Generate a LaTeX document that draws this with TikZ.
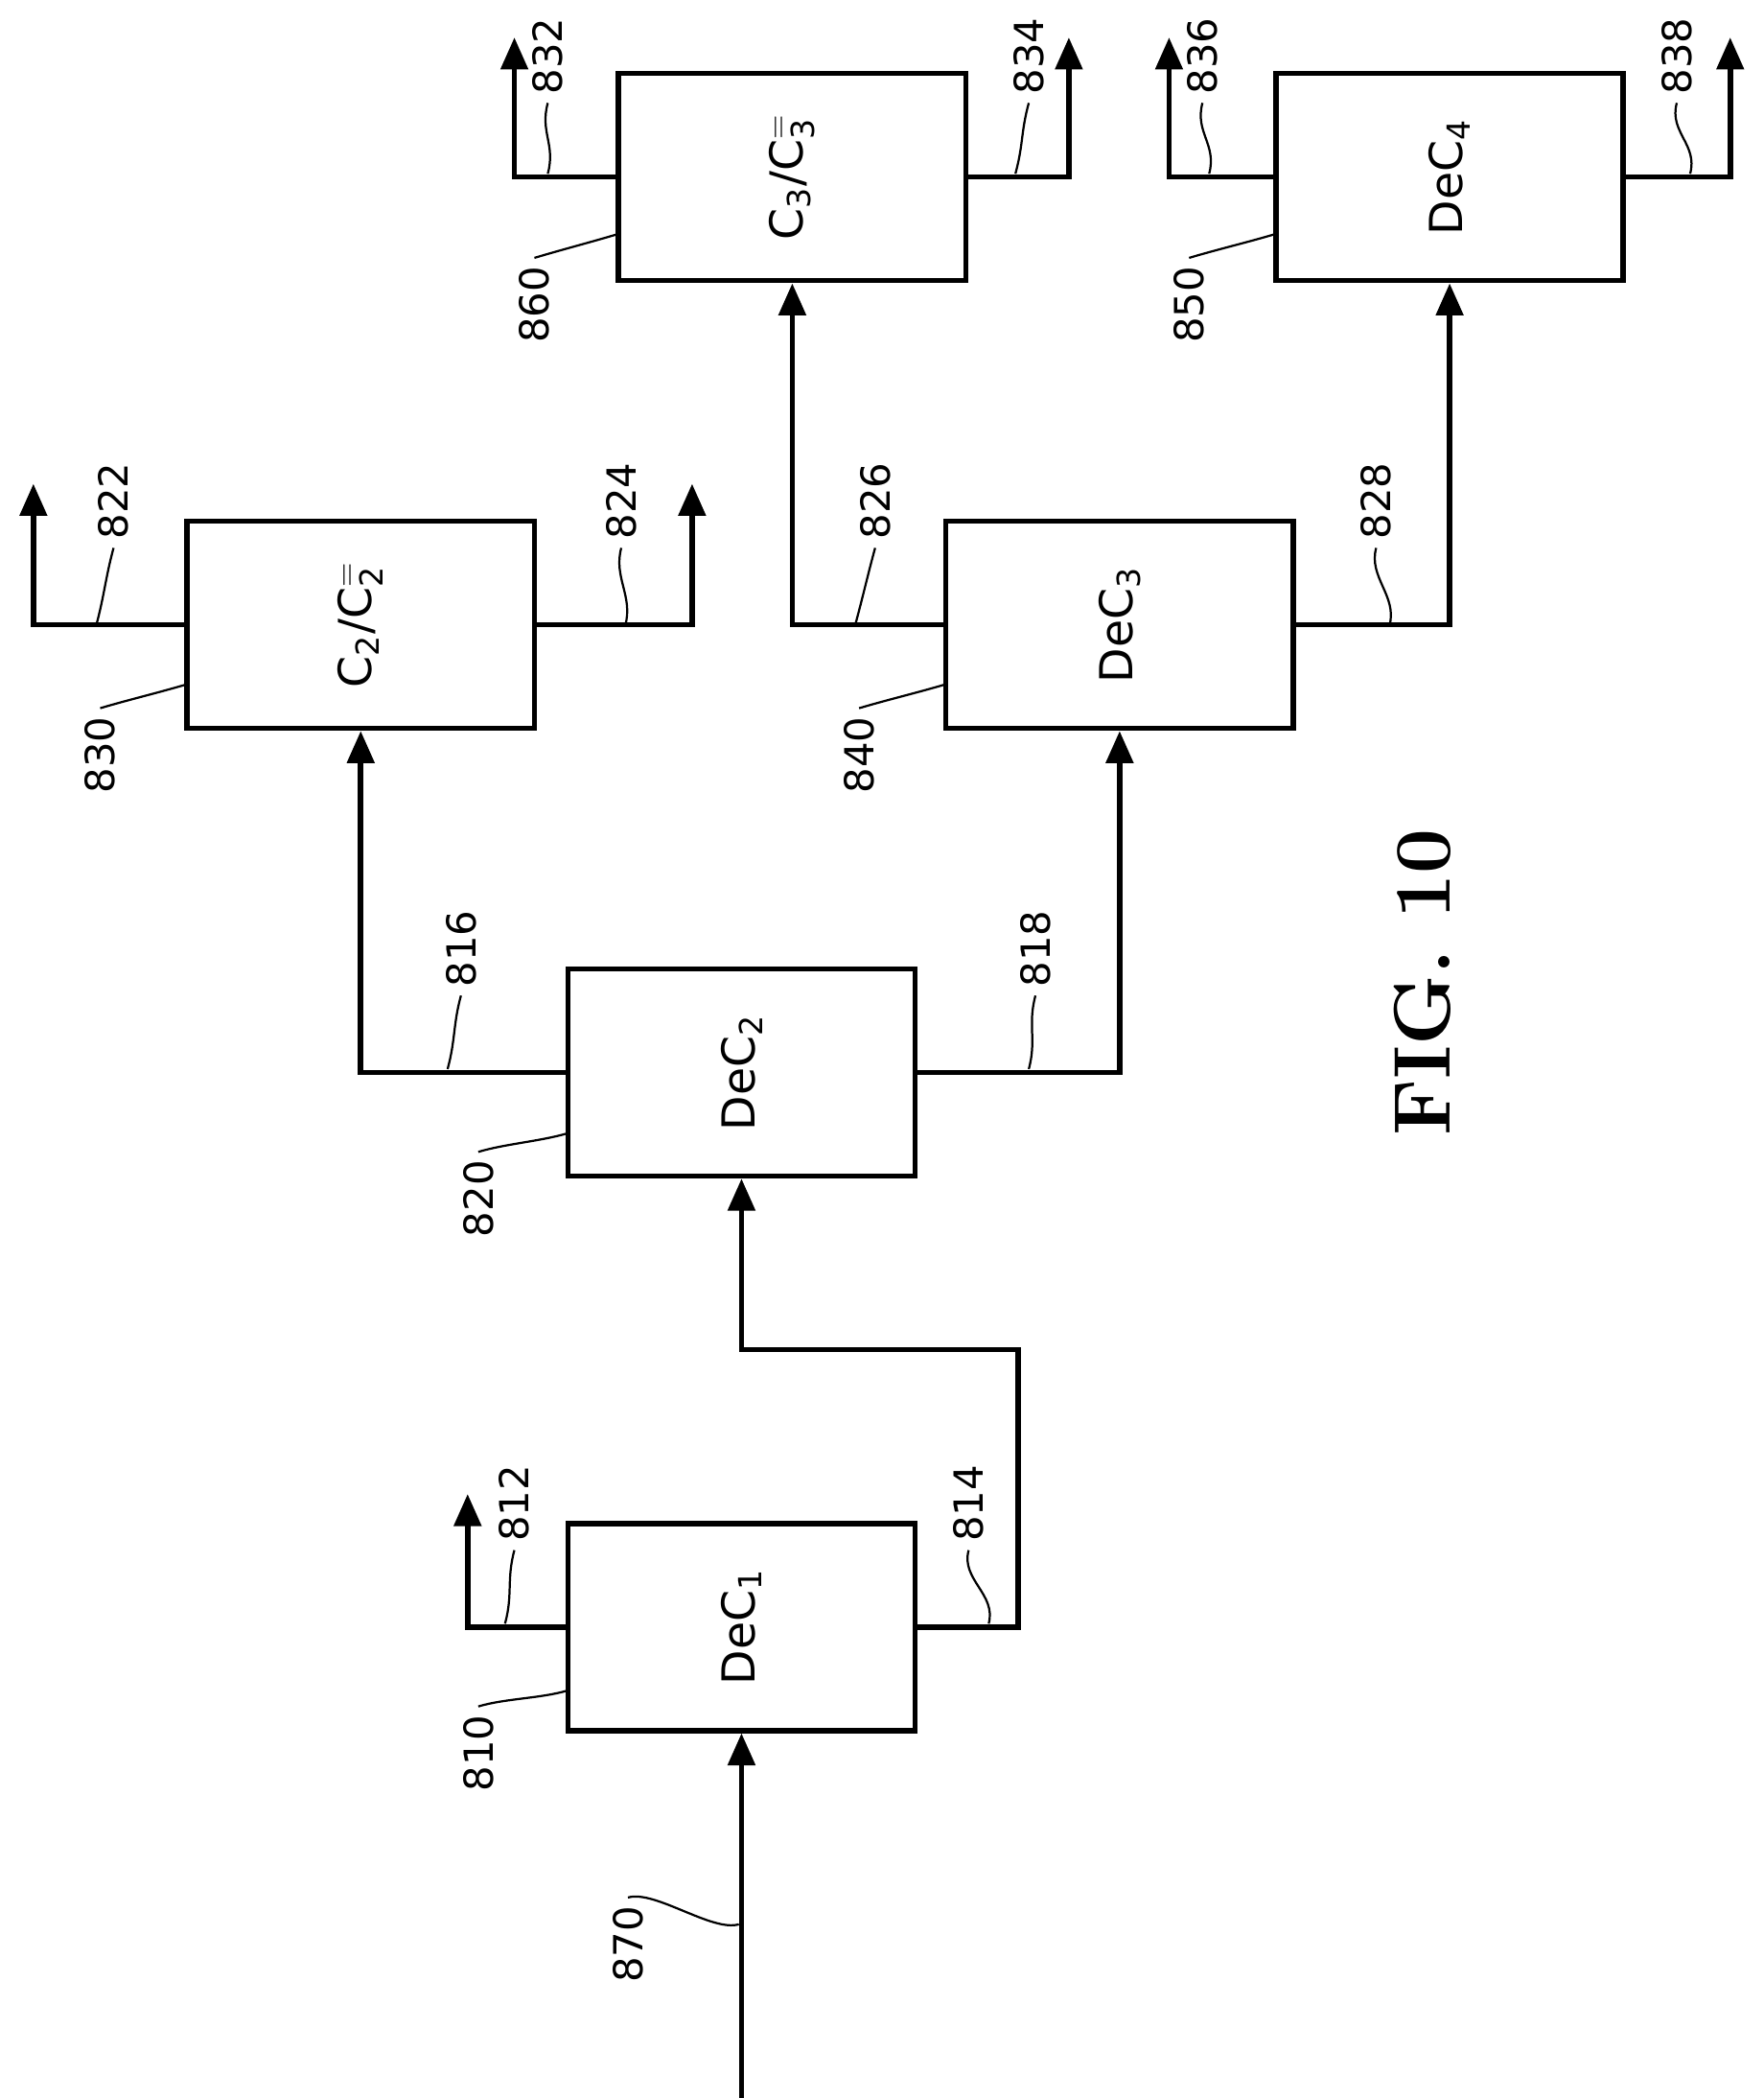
\documentclass[tikz,border=0pt]{standalone}
\usepackage{fontspec}
\setsansfont{DejaVu Sans}
\usetikzlibrary{arrows.meta,positioning}
\tikzset{
  unit/.style={draw,line width=2pt,minimum width=130pt,minimum height=77.5pt,inner sep=0pt,font=\sffamily\fontsize{17}{17}\selectfont},
  flow/.style={line width=2pt,-{Triangle[length=12pt,width=10pt]}},
  lbl/.style={rotate=90,inner sep=3pt,font=\sffamily\fontsize{15}{15}\selectfont},
  lead/.style={line width=0.8pt}
}
% stream label: leader from the bottom end of the text down to the line
\newcommand{\slabel}[4]{\node[lbl] (#1) at (#2) {#3};
  \draw[lead] (#1.west) .. controls +(-6,22) and +(6,-22) .. (#4);}
% unit label: leader from the top end of the text across to the box
\newcommand{\ulabel}[4]{\node[lbl] (#1) at (#2) {#3};
  \draw[lead] (#1.east) .. controls +(20,-6) and +(-20,6) .. (#4);}
\begin{document}
\begin{tikzpicture}[x=0.5pt,y=-0.5pt]
    \useasboundingbox (0,0) rectangle (1320,1570);

    % Columns
    \node[unit] (dec1) at (555,1217.5) {\rotatebox{90}{DeC$_{\mathsf{1}}$}};
    \node[unit] (dec2) at (555,802.5) {\rotatebox{90}{DeC$_{\mathsf{2}}$}};
    \node[unit] (c2) at (270,467.5) {\rotatebox{90}{C$_{\mathsf{2}}$/C$_{\mathsf{2}}^{=}$}};
    \node[unit] (dec3) at (838,467.5) {\rotatebox{90}{DeC$_{\mathsf{3}}$}};
    \node[unit] (c3) at (593,132.5) {\rotatebox{90}{C$_{\mathsf{3}}$/C$_{\mathsf{3}}^{=}$}};
    \node[unit] (dec4) at (1085,132.5) {\rotatebox{90}{DeC$_{\mathsf{4}}$}};

    % Stream ends
    \coordinate (feed) at (555,1570);
    \coordinate (o812) at (350,1118);
    \coordinate (j814) at (762,1010);
    \coordinate (o822) at (25,362);
    \coordinate (o824) at (518,362);
    \coordinate (o832) at (385,28);
    \coordinate (o834) at (800,28);
    \coordinate (o836) at (875,28);
    \coordinate (o838) at (1295,28);

    % Streams
    \draw[flow] (feed) -- (dec1.south);
    \draw[flow] (dec1.west) -| (o812);
    \draw[flow] (dec1.east) -| (j814) -| (dec2.south);
    \draw[flow] (dec2.west) -| (c2.south);
    \draw[flow] (dec2.east) -| (dec3.south);
    \draw[flow] (c2.west) -| (o822);
    \draw[flow] (c2.east) -| (o824);
    \draw[flow] (dec3.west) -| (c3.south);
    \draw[flow] (dec3.east) -| (dec4.south);
    \draw[flow] (c3.west) -| (o832);
    \draw[flow] (c3.east) -| (o834);
    \draw[flow] (dec4.west) -| (o836);
    \draw[flow] (dec4.east) -| (o838);

    % Reference numerals
    \ulabel{l870}{470,1455}{870}{553,1440}
    \ulabel{l810}{358,1312}{810}{425,1265}
    \ulabel{l820}{358,897}{820}{425,848}
    \ulabel{l830}{75,565}{830}{140,512}
    \ulabel{l840}{643,565}{840}{708,512}
    \ulabel{l860}{400,228}{860}{463,175}
    \ulabel{l850}{890,228}{850}{955,175}
    \slabel{l812}{385,1125}{812}{378,1215}
    \slabel{l814}{725,1125}{814}{740,1215}
    \slabel{l816}{345,710}{816}{335,800}
    \slabel{l818}{775,710}{818}{770,800}
    \slabel{l822}{85,375}{822}{72,468}
    \slabel{l824}{465,375}{824}{468,468}
    \slabel{l826}{655,375}{826}{640,468}
    \slabel{l828}{1030,375}{828}{1040,468}
    \slabel{l832}{410,42}{832}{410,130}
    \slabel{l834}{770,42}{834}{760,130}
    \slabel{l836}{900,42}{836}{905,130}
    \slabel{l838}{1255,42}{838}{1265,130}

    \node[rotate=90,font=\rmfamily\bfseries\fontsize{30}{30}\selectfont] (fig) at (1065,735) {FIG. 10};
\end{tikzpicture}
\end{document}
